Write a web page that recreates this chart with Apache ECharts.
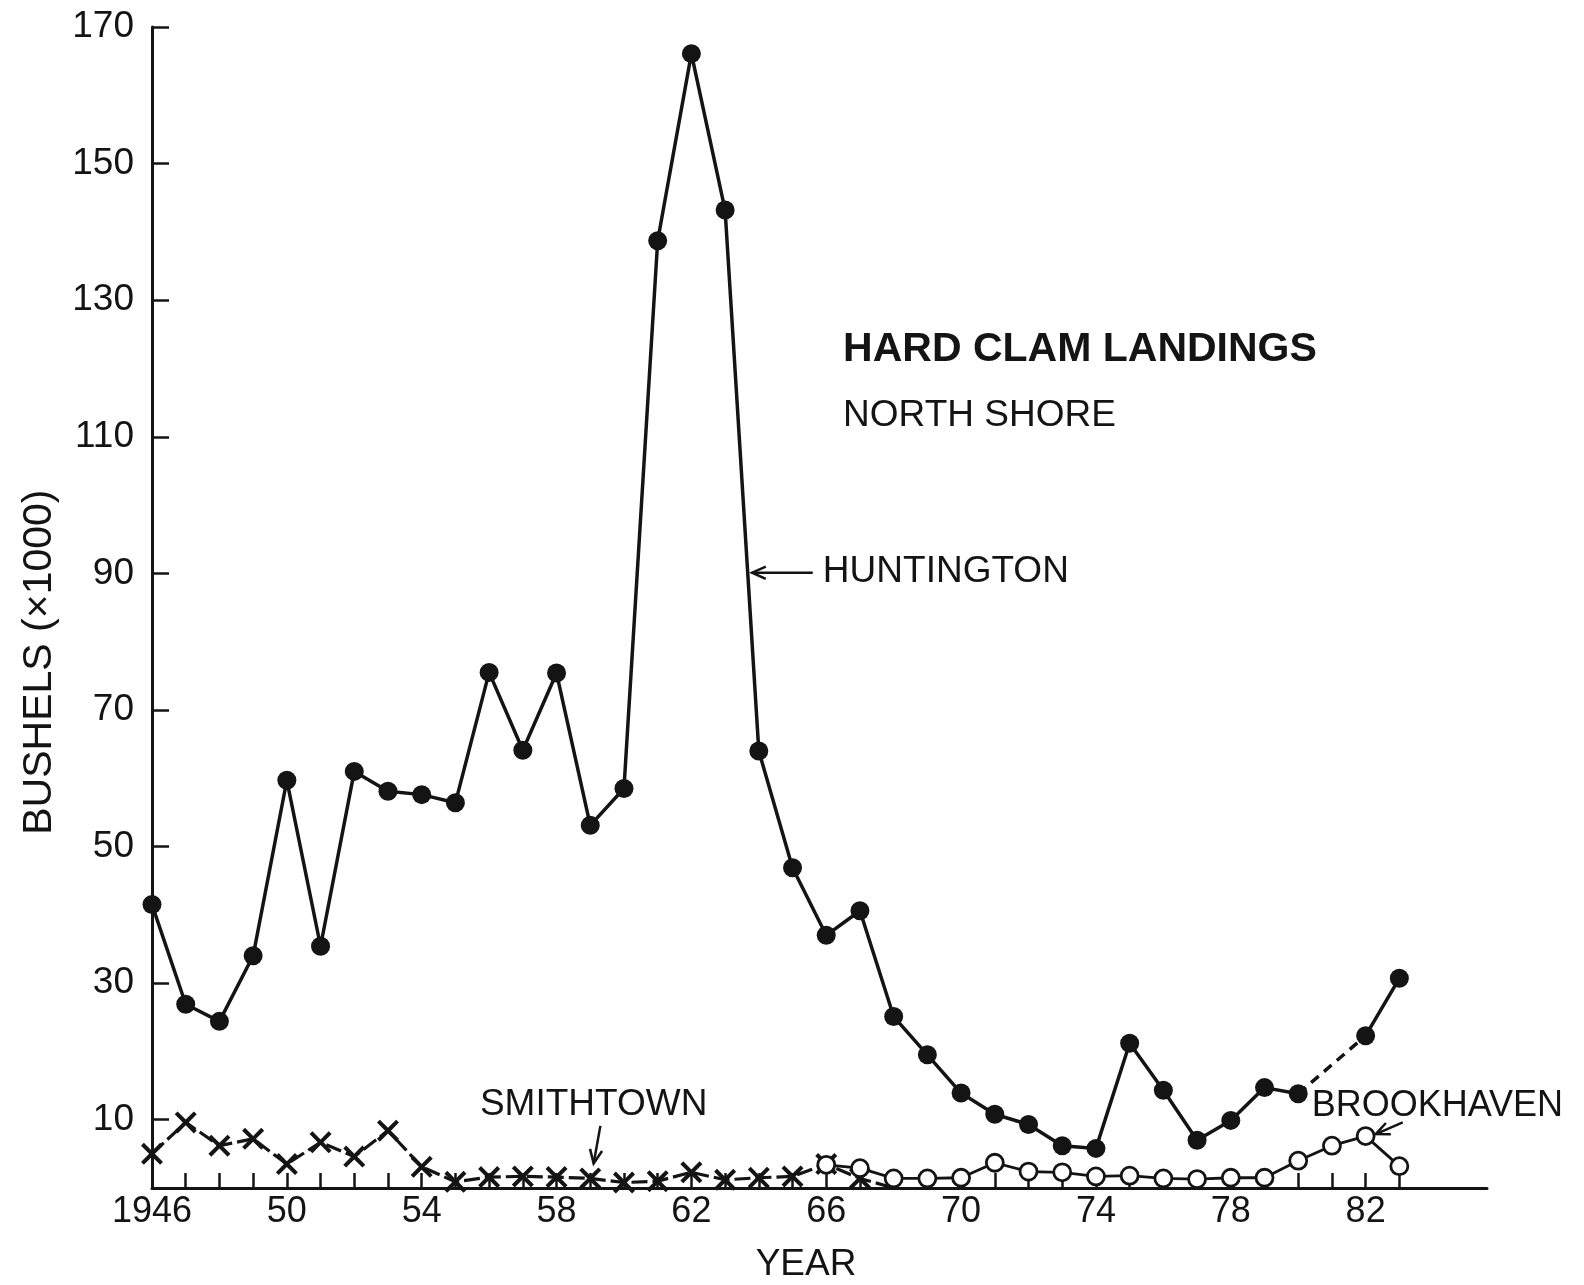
<!DOCTYPE html>
<html>
<head>
<meta charset="utf-8">
<script src="https://cdn.jsdelivr.net/npm/echarts@6/dist/echarts.min.js"></script>
<style>
html,body{margin:0;padding:0;background:#fff;}
#c{width:1584px;height:1285px;}
</style>
</head>
<body>
<div id="c"></div>
<script>
// ---- data (bushels x1000) ----
const huntYears = [1946,1947,1948,1949,1950,1951,1952,1953,1954,1955,1956,1957,1958,1959,1960,1961,1962,1963,1964,1965,1966,1967,1968,1969,1970,1971,1972,1973,1974,1975,1976,1977,1978,1979,1980,1981,1982,1983];
const huntington = [41.5,26.9,24.4,34.0,59.7,35.4,61.0,58.1,57.6,56.4,75.5,64.1,75.4,53.1,58.5,138.7,166.1,143.2,64.0,46.9,37.0,40.6,25.1,19.5,13.9,10.8,9.3,6.2,5.8,21.2,14.3,7.0,9.9,14.7,13.8,null,22.3,30.7];
const smithYears = [1946,1947,1948,1949,1950,1951,1952,1953,1954,1955,1956,1957,1958,1959,1960,1961,1962,1963,1964,1965,1966,1967,1968];
const smithtown = [5.0,9.6,6.2,7.2,3.5,6.7,4.6,8.4,3.1,0.9,1.6,1.7,1.6,1.4,0.8,1.0,2.3,1.2,1.5,1.7,3.5,1.4,0];
const brookYears = [1966,1967,1968,1969,1970,1971,1972,1973,1974,1975,1976,1977,1978,1979,1980,1981,1982,1983];
const brookhaven = [3.4,2.9,1.4,1.4,1.5,3.7,2.4,2.3,1.7,1.8,1.4,1.3,1.5,1.5,4.0,6.2,7.6,3.2];
const xTickYears = [1946,1947,1948,1949,1950,1951,1952,1953,1954,1955,1956,1957,1958,1959,1960,1961,1962,1963,1964,1965,1966,1967,1968,1969,1970,1971,1972,1973,1974,1975,1976,1977,1978,1979,1980,1981,1982,1983];
const xLabelYears = [1946,1950,1954,1958,1962,1966,1970,1974,1978,1982];
const yTickValues = [10,30,50,70,90,110,130,150,170];

const INK = '#141414';
const FONT = '"Liberation Sans", "DejaVu Sans", sans-serif';
const X_SYMBOL = 'path://M1.3,0 L5,3.7 L8.7,0 L10,1.3 L6.3,5 L10,8.7 L8.7,10 L5,6.3 L1.3,10 L0,8.7 L3.7,5 L0,1.3 Z';

const chart = echarts.init(document.getElementById('c'), null, {renderer: 'canvas'});

const huntData = huntYears.map((y, i) => [y, huntington[i]]);
const i80 = huntYears.indexOf(1980), i82 = huntYears.indexOf(1982);
const bridgeData = [[huntYears[i80], huntington[i80]], [huntYears[i82], huntington[i82]]];
const smithData = smithYears.map((y, i) => {
  const v = smithtown[i];
  return i === smithYears.length - 1 ? {value: [y, v], symbol: 'none'} : [y, v];
});
const brookData = brookYears.map((y, i) => [y, brookhaven[i]]);

chart.setOption({
  animation: false,
  backgroundColor: '#fff',
  textStyle: {fontFamily: FONT, color: INK},
  grid: {left: 152, right: 97, top: 27, bottom: 97, containLabel: false},
  xAxis: {
    type: 'value', min: 1946, max: 1985.6,
    axisLine: {show: true, lineStyle: {color: INK, width: 3}},
    axisTick: {show: true, inside: true, length: 15, customValues: xTickYears, lineStyle: {color: INK, width: 2.5}},
    axisLabel: {
      show: true, customValues: xLabelYears, margin: 6, fontSize: 36, color: INK, fontFamily: FONT,
      formatter: v => (v === 1946 ? '1946' : String(v).slice(2))
    },
    splitLine: {show: false}
  },
  yAxis: {
    type: 'value', min: 0, max: 170,
    axisLine: {show: true, lineStyle: {color: INK, width: 3}},
    axisTick: {show: true, inside: true, length: 17, customValues: yTickValues, lineStyle: {color: INK, width: 2.5}},
    axisLabel: {show: true, customValues: yTickValues, margin: 18, fontSize: 37, color: INK, fontFamily: FONT},
    splitLine: {show: false}
  },
  series: [
    {
      name: 'Smithtown', type: 'line', data: smithData, z: 2,
      symbol: X_SYMBOL, symbolSize: 22, showAllSymbol: true,
      itemStyle: {color: INK},
      lineStyle: {color: INK, width: 3.2, type: [16, 5]}
    },
    {
      name: 'Brookhaven', type: 'line', data: brookData, z: 3,
      symbol: 'circle', symbolSize: 17, showAllSymbol: true,
      itemStyle: {color: '#fff', borderColor: INK, borderWidth: 2.8},
      lineStyle: {color: INK, width: 2.8}
    },
    {
      name: 'HuntingtonGap', type: 'line', data: bridgeData, z: 3,
      symbol: 'none',
      lineStyle: {color: INK, width: 3.5, type: [10, 7]}
    },
    {
      name: 'Huntington', type: 'line', data: huntData, z: 4,
      connectNulls: false,
      symbol: 'circle', symbolSize: 19, showAllSymbol: true,
      itemStyle: {color: INK},
      lineStyle: {color: INK, width: 3.5}
    }
  ]
});

// ---- annotations anchored in data space ----
const P = (x, y) => chart.convertToPixel({gridIndex: 0}, [x, y]);

function arrow(from, to) {
  const a = P(from[0], from[1]), b = P(to[0], to[1]);
  const ang = Math.atan2(b[1] - a[1], b[0] - a[0]);
  const L = 15, spread = 0.42;
  const h1 = [b[0] - L * Math.cos(ang - spread), b[1] - L * Math.sin(ang - spread)];
  const h2 = [b[0] - L * Math.cos(ang + spread), b[1] - L * Math.sin(ang + spread)];
  return [
    {type: 'polyline', shape: {points: [a, b]}, style: {stroke: INK, lineWidth: 2.5, fill: null}, z: 10},
    {type: 'polyline', shape: {points: [h1, b, h2]}, style: {stroke: INK, lineWidth: 2.5, fill: null}, z: 10}
  ];
}
function label(text, at, opts) {
  const p = P(at[0], at[1]);
  return {
    type: 'text', x: p[0], y: p[1], z: 10,
    style: Object.assign({text: text, fill: INK, font: '36px ' + FONT, textAlign: 'left', textVerticalAlign: 'middle'}, opts || {})
  };
}

const yearP = P(1965.4, 0);
const bushP = P(1946, 77);
const elements = [
  label('HARD CLAM LANDINGS', [1966.5, 122.8], {font: 'bold 41px ' + FONT}),
  label('NORTH SHORE', [1966.5, 113.0], {font: '37px ' + FONT}),
  label('HUNTINGTON', [1965.9, 90.2], {font: '37px ' + FONT}),
  label('SMITHTOWN', [1959.1, 12.2], {font: '37px ' + FONT, textAlign: 'center'}),
  label('BROOKHAVEN', [1980.4, 12.0], {font: '36px ' + FONT}),
  {type: 'text', x: yearP[0], y: yearP[1] + 77, z: 10,
   style: {text: 'YEAR', fill: INK, font: '37px ' + FONT, textAlign: 'center', textVerticalAlign: 'middle'}},
  {type: 'text', x: 40, y: bushP[1], rotation: Math.PI / 2, z: 10,
   style: {text: 'BUSHELS (×1000)', fill: INK, font: '41px ' + FONT, textAlign: 'center', textVerticalAlign: 'middle'}}
]
  .concat(arrow([1965.6, 90.1], [1963.8, 90.1]))
  .concat(arrow([1959.3, 9.1], [1959.1, 3.6]))
  .concat(arrow([1983.1, 9.6], [1982.3, 7.9]));

chart.setOption({graphic: {elements: elements}});
</script>
</body>
</html>
